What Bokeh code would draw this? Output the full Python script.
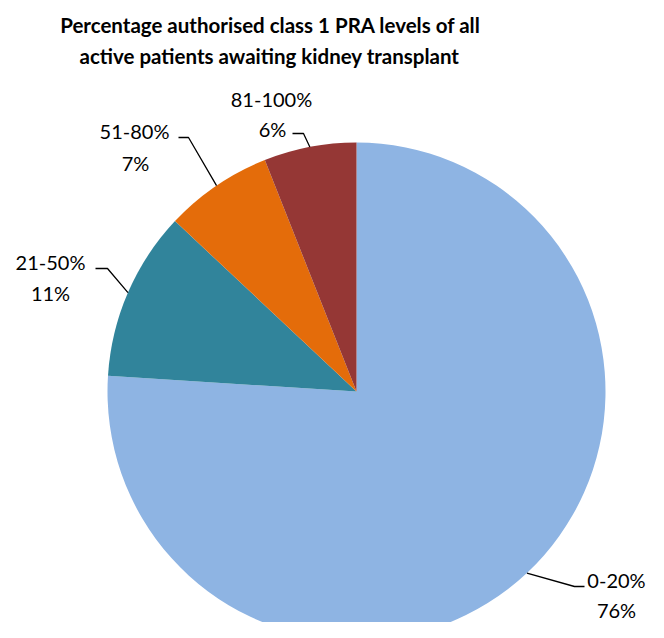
import math
from bokeh.plotting import figure
from bokeh.models import Range1d, ColumnDataSource
from bokeh.core.properties import value
from bokeh.embed import file_html
from bokeh.resources import INLINE

categories = ["0-20%", "21-50%", "51-80%", "81-100%"]
percentages = [76, 11, 7, 6]
colors = ["#8EB4E3", "#31849B", "#E46C0A", "#953735"]
title_lines = ["Percentage authorised class 1 PRA levels of all",
               "active patients awaiting kidney transplant"]

W, H = 648, 622
FONT = "Lato"

def X(px):
    return px

def Y(py):
    return H - py

p = figure(width=W, height=H, output_backend="svg", toolbar_location=None,
           x_range=Range1d(0, W), y_range=Range1d(0, H), min_border=0)
p.axis.visible = False
p.grid.visible = False
p.outline_line_color = None
p.background_fill_color = "white"

cx, cy, R = X(356), Y(391), 249
total = float(sum(percentages))
starts, ends, mids = [], [], []
acc = 0.0
for v in percentages:
    a0 = math.pi / 2 - 2 * math.pi * acc / total
    acc += v
    a1 = math.pi / 2 - 2 * math.pi * acc / total
    starts.append(a0)
    ends.append(a1)
    mids.append((a0 + a1) / 2)

src = ColumnDataSource(dict(start=starts, end=ends, color=colors))
p.wedge(x=cx, y=cy, radius=R, start_angle="end", end_angle="start",
        fill_color="color", line_color=None, source=src)

# label layout (pixel positions of leader elbows and text centres)
layout = [
    dict(elbow=(574, 586), end=(584, 586), name=(616, 579), pct=(616, 609)),
    dict(elbow=(107, 268), end=(95, 268), name=(50, 261), pct=(50, 292)),
    dict(elbow=(188, 137), end=(178, 137), name=(134, 130), pct=(135, 162)),
    dict(elbow=(303, 133), end=(292, 133), name=(271, 98), pct=(272, 128)),
]

for i, cat in enumerate(categories):
    m = mids[i]
    ax = cx + R * math.cos(m)
    ay = cy + R * math.sin(m)
    L = layout[i]
    p.line(x=[ax, X(L["elbow"][0]), X(L["end"][0])],
           y=[ay, Y(L["elbow"][1]), Y(L["end"][1])],
           line_color="black", line_width=1.3)
    p.text(x=[X(L["name"][0]), X(L["pct"][0])], y=[Y(L["name"][1]), Y(L["pct"][1])],
           text=[cat, f"{percentages[i]}%"], text_font=value(FONT),
           text_font_size="20px", text_align="center", text_baseline="middle",
           text_color="black")

p.text(x=[X(270), X(269)], y=[Y(24), Y(55)], text=title_lines,
       text_font=value(FONT), text_font_style="bold", text_font_size="20.5px",
       text_align="center", text_baseline="middle", text_color="black")

open("out.html", "w").write(file_html(p, INLINE))
